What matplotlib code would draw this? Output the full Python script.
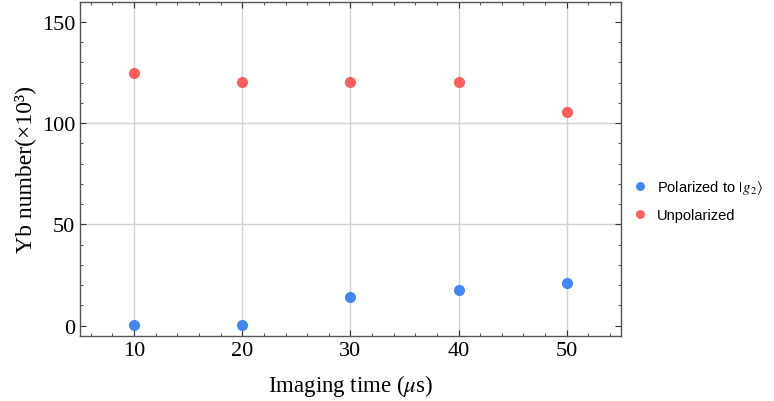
import numpy as np
import matplotlib
matplotlib.use("Agg")
import matplotlib.pyplot as plt
from matplotlib.ticker import MultipleLocator

# data
times = [10, 20, 30, 40, 50]
polarized = [0.2, 0.3, 14.2, 17.6, 21.0]
unpolarized = [125.0, 120.1, 120.5, 120.5, 105.7]

plt.rcParams['mathtext.fontset'] = 'stix'

fig = plt.figure(figsize=(7.74, 4.02), dpi=100)
ax = fig.add_axes([0.1034, 0.1624, 0.6986, 0.8309])

ax.plot(times, polarized, 'o', color='#4286f4', ms=8, mec='none',
        label=r'Polarized to $|\,g_2\rangle$')
ax.plot(times, unpolarized, 'o', color='#ff5e5e', ms=8, mec='none',
        label='Unpolarized')

ax.set_xlim(5, 55)
ax.set_ylim(-5, 160)
ax.xaxis.set_major_locator(MultipleLocator(10))
ax.xaxis.set_minor_locator(MultipleLocator(2))
ax.yaxis.set_major_locator(MultipleLocator(50))
ax.yaxis.set_minor_locator(MultipleLocator(10))

# grid lines only where the reference has them
for t in times:
    ax.axvline(t, color='#d0d0d0', lw=1, zorder=0)
for g in [50, 100]:
    ax.axhline(g, color='#d0d0d0', lw=1, zorder=0)

ax.tick_params(which='both', direction='in', top=True, right=True,
               color='#333333', labelsize=16)
ax.tick_params(which='major', length=4, width=0.8)
ax.tick_params(which='minor', length=2, width=0.6)
for lab in ax.get_xticklabels() + ax.get_yticklabels():
    lab.set_family('Liberation Serif')
for s in ax.spines.values():
    s.set_color('#555555')
    s.set_linewidth(1)

ax.set_xlabel(r'Imaging time ($\mu$s)', family='Liberation Serif',
              fontsize=16.5, labelpad=9)
ax.set_ylabel('Yb number(×10³)', family='Liberation Serif', fontsize=17)

leg = fig.legend(loc='center left', bbox_to_anchor=(0.818, 0.5),
                 frameon=False, prop={'family': 'Liberation Sans', 'size': 10.5},
                 handletextpad=0.65, labelspacing=0.85, markerscale=0.8,
                 handlelength=1.0, borderaxespad=0, borderpad=0)

fig.savefig('out.png', dpi=100)
